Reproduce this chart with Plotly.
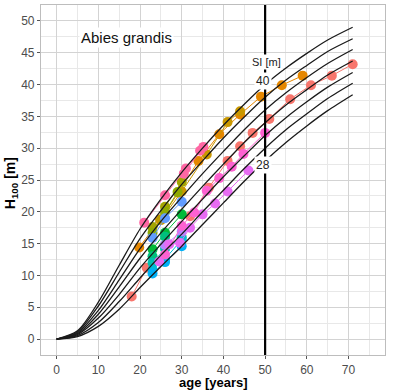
import plotly.graph_objects as go

# ---------------- data ----------------
CURVE_AGES = [0, 5, 10, 15, 20, 25, 30, 35, 40, 45, 50, 55, 60, 65, 71]
SI28 = [0, 0.4, 2.0, 4.7, 8.1, 11.4, 14.6, 18.0, 21.4, 24.8, 28.0, 30.9, 33.5, 35.9, 38.4]
SI30 = [0, 0.55, 2.6, 5.9, 9.6, 13.2, 16.5, 20.0, 23.4, 26.8, 30.0, 32.9, 35.4, 37.8, 40.2]
SI32 = [0, 0.7, 3.3, 7.0, 11.2, 14.9, 18.5, 22.0, 25.5, 28.8, 32.0, 34.8, 37.3, 39.6, 41.9]
SI34 = [0, 0.85, 3.9, 8.2, 12.7, 16.7, 20.4, 24.0, 27.5, 30.9, 34.0, 36.8, 39.2, 41.5, 43.7]
SI36 = [0, 1.0, 4.5, 9.3, 14.2, 18.5, 22.3, 26.0, 29.5, 32.9, 36.0, 38.7, 41.1, 43.3, 45.5]
SI38 = [0, 1.15, 5.2, 10.5, 15.8, 20.2, 24.3, 28.0, 31.6, 34.9, 38.0, 40.7, 43.0, 45.2, 47.2]
SI40 = [0, 1.3, 5.8, 11.6, 17.3, 22.0, 26.2, 30.0, 33.6, 36.9, 40.0, 42.6, 44.9, 47.0, 49.0]
SI_CURVES = [SI28, SI30, SI32, SI34, SI36, SI38, SI40]

REF_AGE = 50

# observed plots: (color, ages, heights)
S1_age = [18, 21.6]
S1_h = [6.7, 11.2]
S2_age = [32, 36.5, 41, 44, 47, 51, 56, 61, 66, 71]
S2_h = [19.3, 23.8, 28.0, 30.3, 32.4, 34.6, 37.7, 39.9, 41.4, 43.2]
O1_age = [19.8, 24.8, 29.2, 34, 39, 44, 49, 54, 59]
O1_h = [14.4, 18.8, 23.0, 28.0, 32.2, 35.3, 38.1, 39.9, 41.4]
O2_age = [25, 30, 36, 41, 44]
O2_h = [18.7, 23.2, 29.0, 34.1, 35.8]
OL1_age = [23, 26, 30]
OL1_h = [17.6, 20.8, 24.7]
OL2_age = [23, 26, 29]
OL2_h = [16.7, 20.0, 23.1]
G1_age = [23, 26, 30]
G1_h = [14.1, 16.7, 19.6]
G2_age = [23, 26]
G2_h = [13.0, 16.1]
T1_age = [23, 26, 30]
T1_h = [12.0, 14.2, 16.0]
C1_age = [23, 26, 30]
C1_h = [10.3, 12.1, 14.6]
C2_age = [23, 26, 30]
C2_h = [10.9, 12.6, 15.6]
B1_age = [23, 26, 30]
B1_h = [15.9, 19.0, 21.6]
P1_age = [26, 30]
P1_h = [14.8, 16.9]
M2_age = [24.6, 27, 29.6, 32, 35, 38, 41, 46]
M2_h = [12.2, 14.9, 15.1, 17.5, 19.6, 21.3, 23.2, 26.5]
M1_age = [26, 30, 33, 36, 39, 42, 44.8, 50]
M1_h = [13.3, 17.8, 19.9, 23.3, 25.3, 27.1, 29.1, 32.4]
PK1_age = [21, 26, 31, 34.4]
PK1_h = [18.3, 22.6, 26.8, 29.6]
PK2_age = [30.5, 35.2]
PK2_h = [26.0, 30.2]

SERIES = [
    ("#F8766D", S1_age, S1_h),
    ("#F8766D", S2_age, S2_h),
    ("#E58700", O1_age, O1_h),
    ("#C99800", O2_age, O2_h),
    ("#A3A500", OL1_age, OL1_h),
    ("#8FAA00", OL2_age, OL2_h),
    ("#00BA38", G1_age, G1_h),
    ("#00BF7D", G2_age, G2_h),
    ("#00C0AF", T1_age, T1_h),
    ("#00BCD8", C2_age, C2_h),
    ("#00B0F6", C1_age, C1_h),
    ("#619CFF", B1_age, B1_h),
    ("#B983FF", P1_age, P1_h),
    ("#E76BF3", M2_age, M2_h),
    ("#FD61D1", M1_age, M1_h),
    ("#FF67A4", PK1_age, PK1_h),
    ("#FF67A4", PK2_age, PK2_h),
]

X_TICKS = [0, 10, 20, 30, 40, 50, 60, 70]
Y_TICKS = [0, 5, 10, 15, 20, 25, 30, 35, 40, 45, 50]

# ---------------- figure ----------------
fig = go.Figure()

for col, a, h in SERIES:
    fig.add_trace(go.Scatter(x=a, y=h, mode="lines+markers",
                             line=dict(color=col, width=1),
                             marker=dict(color=col, size=10),
                             showlegend=False, hoverinfo="skip"))

for c in SI_CURVES:
    fig.add_trace(go.Scatter(x=CURVE_AGES, y=c, mode="lines",
                             line=dict(color="#1a1a1a", width=1.3, shape="spline", smoothing=0.8),
                             showlegend=False, hoverinfo="skip"))

fig.add_shape(type="line", xref="x", yref="paper", x0=REF_AGE, x1=REF_AGE, y0=0, y1=1,
              line=dict(color="black", width=2.2), layer="above")

FONT = "Liberation Sans, Arial, sans-serif"

ann = [
    dict(x=16.8, y=47.4, text="Abies grandis", font=dict(size=15, color="#111")),
    dict(x=50.4, y=43.6, text="SI [m]", font=dict(size=11, color="#222")),
    dict(x=49.5, y=40.6, text="40", font=dict(size=12, color="#222")),
    dict(x=49.6, y=27.4, text="28", font=dict(size=12, color="#222")),
]
for a in ann:
    fig.add_annotation(xref="x", yref="y", showarrow=False, bgcolor="white",
                       borderpad=1, xanchor="center", yanchor="middle", **a)

fig.add_annotation(xref="paper", yref="paper", x=0.5, y=-0.079, showarrow=False,
                   text="<b>age [years]</b>", font=dict(size=13, color="black"),
                   xanchor="center", yanchor="middle")
fig.add_annotation(xref="paper", yref="paper", x=-0.088, y=0.49, showarrow=False,
                   text="<b>H<sub>100</sub> [m]</b>", font=dict(size=14, color="black"),
                   textangle=-90, xanchor="center", yanchor="middle")

axis_common = dict(showline=True, mirror=True, linecolor="#BDBDBD", linewidth=1.2,
                   ticks="outside", ticklen=3, tickcolor="#555", tickwidth=1,
                   tickfont=dict(size=12, color="#4D4D4D", family=FONT),
                   gridcolor="#D3D3D3", gridwidth=1.2, zeroline=False, showgrid=True)

fig.update_xaxes(range=[-3.75, 78.75], tickvals=X_TICKS,
                 minor=dict(dtick=5, tick0=0, showgrid=True, gridcolor="#E8E8E8", gridwidth=0.8),
                 **axis_common)
fig.update_yaxes(range=[-2.5, 52.5], tickvals=Y_TICKS,
                 minor=dict(dtick=2.5, tick0=0, showgrid=True, gridcolor="#E8E8E8", gridwidth=0.8),
                 **axis_common)

fig.update_layout(width=395, height=390, margin=dict(l=41, r=10, t=5, b=35),
                  plot_bgcolor="white", paper_bgcolor="white",
                  font=dict(family=FONT), showlegend=False)

fig.write_html("out.html", config={"displayModeBar": False},
               post_script="document.body.style.margin='0';document.body.style.padding='0';")
